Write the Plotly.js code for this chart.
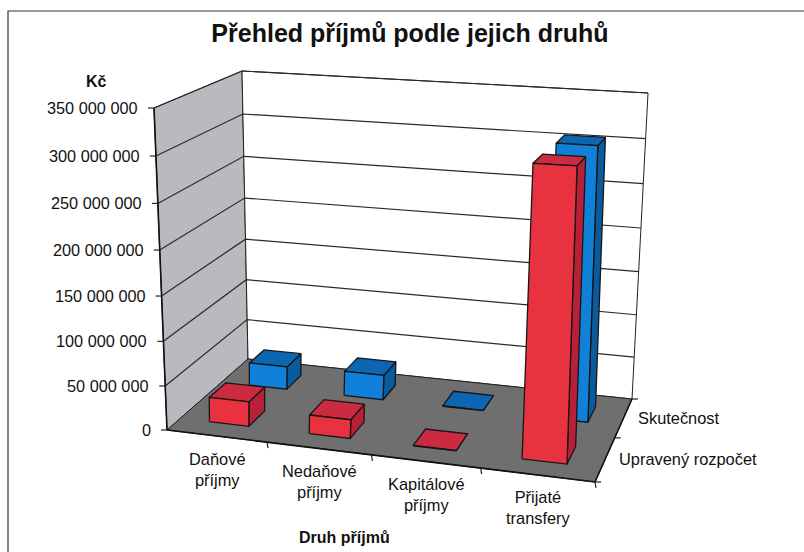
<!DOCTYPE html>
<html><head><meta charset="utf-8">
<script src="https://cdn.plot.ly/plotly-3.0.1.min.js"></script>
<style>html,body{margin:0;padding:0;background:#fff}#c{width:804px;height:552px}</style>
</head><body><div id="c"></div>
<script>
const categories = ["Daňové<br>příjmy","Nedaňové<br>příjmy","Kapitálové<br>příjmy","Přijaté<br>transfery"];
const seriesNames = ["Upravený rozpočet","Skutečnost"];
const upravenyRozpocet = [28000000, 21000000, 500000, 308000000];
const skutecnost = [27000000, 29000000, 500000, 306000000];
const valueTicks = [0,50000000,100000000,150000000,200000000,250000000,300000000,350000000];
const tickLabels = ["0","50 000 000","100 000 000","150 000 000","200 000 000","250 000 000","300 000 000","350 000 000"];
const valueMax = 350000000;

const floorQuad = [[167,430],[595,482],[632,399],[248,359]];
const topQuad   = [[154,108],[611,131],[648,93],[242,71]];
function homography(q){
  const [p0,p1,p2,p3]=q;
  const dx1=p1[0]-p2[0],dx2=p3[0]-p2[0],sx=p0[0]-p1[0]+p2[0]-p3[0];
  const dy1=p1[1]-p2[1],dy2=p3[1]-p2[1],sy=p0[1]-p1[1]+p2[1]-p3[1];
  const den=dx1*dy2-dx2*dy1;
  const g=(sx*dy2-dx2*sy)/den,h=(dx1*sy-sx*dy1)/den;
  const a=p1[0]-p0[0]+g*p1[0],b=p3[0]-p0[0]+h*p3[0],c=p0[0];
  const d=p1[1]-p0[1]+g*p1[1],e=p3[1]-p0[1]+h*p3[1],f=p0[1];
  return (s,t)=>{const w=g*s+h*t+1;return [(a*s+b*t+c)/w,(d*s+e*t+f)/w];};
}
const hFloor=homography(floorQuad),hTop=homography(topQuad);
const nCat=categories.length,nSer=seriesNames.length;
function P(u,v,val,lean){
  const a=hFloor(u/nCat,v/nSer),b=hTop(u/nCat,v/nSer);
  let t=val/valueMax;t=t*0.95/(1-0.05*t);
  const k=lean===undefined?1:lean;
  return [a[0]+(b[0]-a[0])*t*k,a[1]+(b[1]-a[1])*t];
}
const traces=[];
function poly(polys,fill,lineColor,lw){
  const x=[],y=[];
  polys.forEach(p=>{p.forEach(q=>{x.push(q[0]);y.push(q[1]);});x.push(p[0][0]);y.push(p[0][1]);x.push(null);y.push(null);});
  traces.push({type:'scatter',mode:'lines',x,y,fill:'toself',fillcolor:fill,line:{color:lineColor,width:lw},hoverinfo:'skip',showlegend:false});
}
function lines(segs,color,lw){
  const x=[],y=[];
  segs.forEach(s=>{s.forEach(q=>{x.push(q[0]);y.push(q[1]);});x.push(null);y.push(null);});
  traces.push({type:'scatter',mode:'lines',x,y,line:{color,width:lw},hoverinfo:'skip',showlegend:false});
}
// walls and floor
poly([[P(0,0,0),P(0,nSer,0),P(0,nSer,valueMax),P(0,0,valueMax)]],'#b8bac0','#222',1);
poly([[P(0,nSer,0),P(nCat,nSer,0),P(nCat,nSer,valueMax),P(0,nSer,valueMax)]],'#ffffff','#222',1);
poly([[P(0,0,0),P(nCat,0,0),P(nCat,nSer,0),P(0,nSer,0)]],'#6f6f70','#222',1);
// gridlines
lines(valueTicks.slice(1).map(v=>[P(0,0,v),P(0,nSer,v),P(nCat,nSer,v)]),'#2a2a2a',1.2);
// axes and ticks
lines([[P(0,0,0),P(0,0,valueMax)],[P(0,0,0),P(nCat,0,0),P(nCat,nSer,0)]],'#111',1.6);
lines(valueTicks.map(v=>{const p=P(0,0,v);return [[p[0]-6,p[1]],p];}),'#222',1.2);
lines(categories.map((c,i)=>{const p=P(i+1,0,0);return [p,[p[0]+1,p[1]+6]];}),'#222',1.2);
lines([0,1,2].map(j=>{const p=P(nCat,j,0);return [p,[p[0]+6,p[1]]];}),'#222',1.2);
// bars
const barW=0.4,barD=0.4,barLean=0.65;
const styles=[{front:'#e9323f',top:'#cc2a40',side:'#b82038'},{front:'#1180d8',top:'#0c66b2',side:'#0a5a9e'}];
[[1,skutecnost],[0,upravenyRozpocet]].forEach(([s,vals])=>{
  const fr=[],tp=[],sd=[];
  vals.forEach((val,i)=>{
    const u0=i+0.5-barW/2,u1=i+0.5+barW/2,v0=s+0.5-barD/2,v1=s+0.5+barD/2;
    const Q=(u,v,w)=>P(u,v,w,barLean);
    fr.push([Q(u0,v0,0),Q(u1,v0,0),Q(u1,v0,val),Q(u0,v0,val)]);
    tp.push([Q(u0,v0,val),Q(u1,v0,val),Q(u1,v1,val),Q(u0,v1,val)]);
    sd.push([Q(u1,v0,0),Q(u1,v1,0),Q(u1,v1,val),Q(u1,v0,val)]);
  });
  poly(sd,styles[s].side,'#161616',1.3);
  poly(tp,styles[s].top,'#161616',1.3);
  poly(fr,styles[s].front,'#161616',1.3);
});
// text
const F='"Liberation Sans", Arial, sans-serif';
const ann=[];
function txt(text,x,y,xanchor,size,bold){
  ann.push({text:bold?'<b>'+text+'</b>':text,x,y,xref:'x',yref:'y',xanchor,yanchor:'middle',showarrow:false,align:'center',
    font:{family:F,size,color:'#111'}});
}
valueTicks.forEach((v,i)=>{const p=P(0,0,v);txt(tickLabels[i],p[0]-14,p[1],'right',16.3);});
categories.forEach((c,i)=>{const p=P(i+0.5,0,0);txt(c,p[0]+1,p[1]+33,'center',16.4);});
seriesNames.forEach((n,j)=>{const p=P(nCat,j+0.5,0);txt(n,p[0]+12,p[1],'left',16.4);});
txt('Kč',96,81,'center',16,true);
txt('Druh příjmů',344,537,'center',16,true);
// frame
lines([[[8,552],[8,11],[804,11]]],'#333',1.2);
const layout={
  width:804,height:552,margin:{l:0,r:0,t:0,b:0},paper_bgcolor:'#fff',plot_bgcolor:'#fff',showlegend:false,
  title:{text:'<b>Přehled příjmů podle jejich druhů</b>',x:410/804,xanchor:'center',y:1-33/552,yanchor:'middle',font:{family:F,size:25,color:'#111'}},
  xaxis:{range:[0,804],visible:false,fixedrange:true},
  yaxis:{range:[552,0],visible:false,fixedrange:true},
  annotations:ann
};
Plotly.newPlot('c',traces,layout,{displayModeBar:false,staticPlot:true});
</script></body></html>
